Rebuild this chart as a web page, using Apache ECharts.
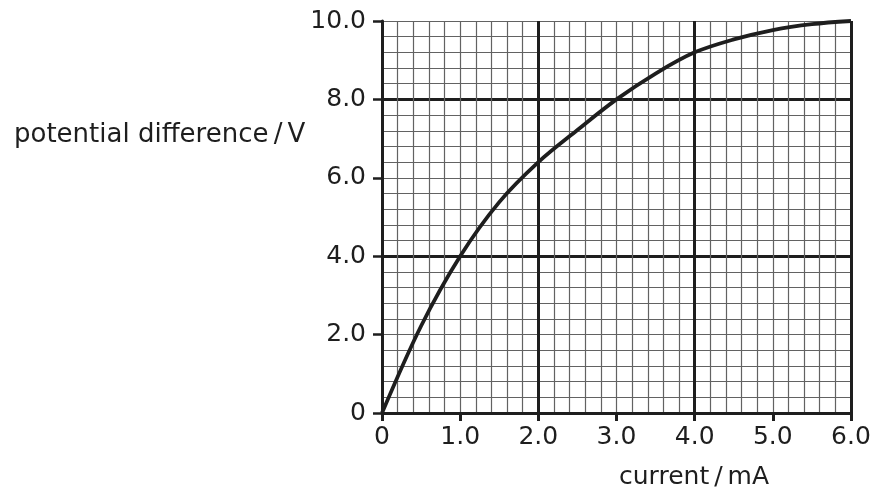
<!DOCTYPE html>
<html>
<head>
<meta charset="utf-8">
<script src="https://cdn.jsdelivr.net/npm/echarts@6/dist/echarts.min.js"></script>
<style>
  html, body {margin:0; padding:0; background:#fff;}
  #chart {width:878px; height:499px;}
</style>
</head>
<body>
<div id="chart"></div>
<script>
// current / mA  ->  potential difference / V
var currentMA = [0, 0.5, 1.0, 1.5, 2.0, 2.5, 3.0, 3.5, 4.0, 4.5, 5.0, 5.5, 6.0];
var voltageV  = [0, 2.22, 4.0, 5.38, 6.4, 7.22, 8.0, 8.66, 9.2, 9.53, 9.77, 9.92, 10.0];

var xTicks = [0, 1, 2, 3, 4, 5, 6];
var yTicks = [0, 2, 4, 6, 8, 10];

var FONT = 'DejaVu Sans';
var INK = '#1e1e1e';
var MINOR = '#626262';

var curve = [];
for (var i = 0; i < currentMA.length; i++) {
    curve.push([currentMA[i], voltageV[i]]);
}

function fmt(v) {
    if (v == 0) return '0';
    return v.toFixed(1);
}

// hidden axis used only for grid lines
function gridAxis(min, max, step, width, color, extra) {
    var a = {
        type: 'value', min: min, max: max, interval: step,
        position: extra.position,
        axisLine: {show: false}, axisTick: {show: false}, axisLabel: {show: false},
        splitLine: {show: true, lineStyle: {color: color, width: width}}
    };
    if (extra.hideMax) a.splitLine.showMaxLine = false;
    return a;
}

var option = {
    backgroundColor: '#fff',
    animation: false,
    title: [
        {text: 'potential difference\u2009/\u2009V', left: 14, top: 122, padding: 0,
         textStyle: {fontFamily: FONT, fontSize: 26, fontWeight: 'normal', color: INK}},
        {text: 'current\u2009/\u2009mA', left: 619, top: 465, padding: 0,
         textStyle: {fontFamily: FONT, fontSize: 25, fontWeight: 'normal', color: INK}}
    ],
    grid: {left: 382, right: 27, top: 21, bottom: 86, containLabel: false},
    xAxis: [
        gridAxis(xTicks[0], xTicks[xTicks.length - 1], 0.2, 1.2, MINOR, {position: 'bottom'}),
        gridAxis(xTicks[0], xTicks[xTicks.length - 1], 2, 3, INK, {position: 'bottom'}),
        {
            type: 'value', min: xTicks[0], max: xTicks[xTicks.length - 1], interval: 1, position: 'bottom',
            axisLine: {show: true, onZero: false, lineStyle: {color: INK, width: 3}},
            axisTick: {show: true, length: 8, lineStyle: {color: INK, width: 3}},
            axisLabel: {show: true, margin: 12, color: INK, fontFamily: FONT, fontSize: 25,
                        formatter: function (v) { return fmt(v); }},
            splitLine: {show: false}
        }
    ],
    yAxis: [
        gridAxis(yTicks[0], yTicks[yTicks.length - 1], 0.4, 1.2, MINOR, {position: 'left'}),
        gridAxis(yTicks[0], yTicks[yTicks.length - 1], 4, 3, INK, {position: 'left', hideMax: true}),
        {
            type: 'value', min: yTicks[0], max: yTicks[yTicks.length - 1], interval: 2, position: 'left',
            axisLine: {show: true, onZero: false, lineStyle: {color: INK, width: 3}},
            axisTick: {show: true, length: 9, lineStyle: {color: INK, width: 2.5}},
            axisLabel: {show: true, margin: 16, color: INK, fontFamily: FONT, fontSize: 25,
                        formatter: function (v) { return fmt(v); }},
            splitLine: {show: false}
        }
    ],
    series: [{
        type: 'line',
        xAxisIndex: 2,
        yAxisIndex: 2,
        data: curve,
        smooth: 0.33,
        showSymbol: false,
        symbol: 'none',
        lineStyle: {color: INK, width: 3.8},
        z: 5
    }]
};

var chart = echarts.init(document.getElementById('chart'), null, {renderer: 'canvas'});
chart.setOption(option);
</script>
</body>
</html>
